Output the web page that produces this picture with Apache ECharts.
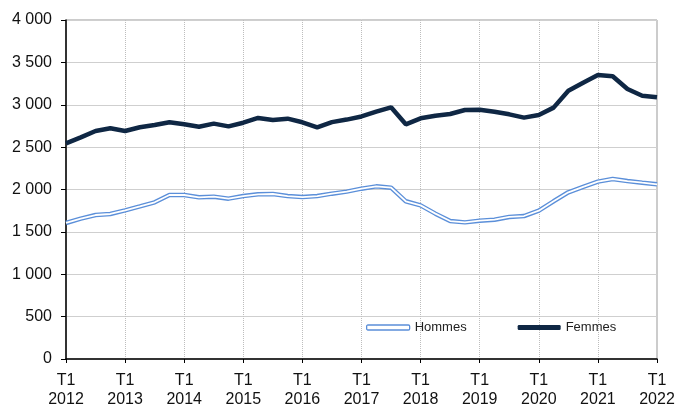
<!DOCTYPE html>
<html lang="fr">
<head>
    <meta charset="UTF-8">
    <title>Hommes / Femmes</title>
    <script src="https://cdn.jsdelivr.net/npm/echarts@6/dist/echarts.min.js"></script>
    <style>
        html, body { margin: 0; padding: 0; background: #fff; }
        #chart { width: 676px; height: 407px; }
    </style>
</head>
<body>
    <div id="chart"></div>
    <script>
        // trimestres T1 2012 -> T1 2022
        var quarters = [
            "T1 2012", "T2 2012", "T3 2012", "T4 2012",
            "T1 2013", "T2 2013", "T3 2013", "T4 2013",
            "T1 2014", "T2 2014", "T3 2014", "T4 2014",
            "T1 2015", "T2 2015", "T3 2015", "T4 2015",
            "T1 2016", "T2 2016", "T3 2016", "T4 2016",
            "T1 2017", "T2 2017", "T3 2017", "T4 2017",
            "T1 2018", "T2 2018", "T3 2018", "T4 2018",
            "T1 2019", "T2 2019", "T3 2019", "T4 2019",
            "T1 2020", "T2 2020", "T3 2020", "T4 2020",
            "T1 2021", "T2 2021", "T3 2021", "T4 2021",
            "T1 2022"
        ];

        var hommes = [
            1605, 1656, 1699, 1711, 1754, 1801, 1849, 1935,
            1935, 1908, 1915, 1892, 1923, 1943, 1947, 1923,
            1911, 1923, 1951, 1975, 2010, 2037, 2022, 1861,
            1813, 1715, 1628, 1612, 1632, 1644, 1676, 1687,
            1750, 1861, 1967, 2030, 2093, 2124, 2100, 2080,
            2061
        ];

        var femmes = [
            2545, 2615, 2690, 2722, 2690, 2734, 2761, 2793,
            2769, 2741, 2777, 2745, 2788, 2844, 2820, 2836,
            2793, 2734, 2795, 2825, 2862, 2918, 2970, 2769,
            2840, 2871, 2891, 2938, 2942, 2918, 2887, 2848,
            2879, 2966, 3166, 3260, 3351, 3336, 3186, 3107,
            3088
        ];

        var yTicks = [0, 500, 1000, 1500, 2000, 2500, 3000, 3500, 4000];

        var blue = "#5b8fd9";
        var navy = "#0f2744";

        function fmtThousands(v) {
            if (v < 1000) return String(v);
            var rest = String(v % 1000);
            while (rest.length < 3) rest = "0" + rest;
            return Math.floor(v / 1000) + " " + rest;
        }

        function isYearStart(idx) {
            return idx % 4 === 0;
        }

        var myChart = echarts.init(document.getElementById("chart"));

        var option = {
            animation: false,
            grid: {
                left: 66,
                right: 19,
                top: 20,
                bottom: 48,
                outerBoundsMode: "none",
                show: true,
                borderColor: "#999",
                borderWidth: 1
            },
            legend: {
                left: 361,
                top: 316,
                itemGap: 51,
                itemWidth: 43,
                itemHeight: 5,
                textStyle: {
                    fontFamily: "Liberation Sans, Arial, sans-serif",
                    fontSize: 13,
                    color: "#222"
                },
                data: [
                    {
                        name: "Hommes",
                        icon: "roundRect",
                        itemStyle: { color: "#fff", borderColor: blue, borderWidth: 1.3 }
                    },
                    {
                        name: "Femmes",
                        icon: "roundRect",
                        itemStyle: { color: navy, borderWidth: 0 }
                    }
                ]
            },
            xAxis: {
                type: "category",
                boundaryGap: false,
                data: quarters,
                axisLine: { lineStyle: { color: "#000", width: 1.5 } },
                axisTick: {
                    show: true,
                    length: 4,
                    interval: function (idx) { return isYearStart(idx); },
                    lineStyle: { color: "#000" }
                },
                axisLabel: {
                    interval: function (idx) { return isYearStart(idx); },
                    formatter: function (v) { return v.replace(" ", "\n"); },
                    fontFamily: "Liberation Sans, Arial, sans-serif",
                    fontSize: 16,
                    lineHeight: 19,
                    margin: 12,
                    color: "#111"
                },
                splitLine: {
                    show: true,
                    interval: function (idx) { return isYearStart(idx) && idx > 0 && idx < quarters.length - 1; },
                    lineStyle: { color: "#bdbdbd", type: "dotted", width: 1 }
                }
            },
            yAxis: {
                type: "value",
                min: yTicks[0],
                max: yTicks[yTicks.length - 1],
                interval: 500,
                axisLine: { show: true, lineStyle: { color: "#000", width: 1.5 } },
                axisTick: { show: true, length: 5, lineStyle: { color: "#000" } },
                axisLabel: {
                    formatter: fmtThousands,
                    fontFamily: "Liberation Sans, Arial, sans-serif",
                    fontSize: 16,
                    margin: 14,
                    color: "#111"
                },
                splitLine: { lineStyle: { color: "#cfcfcf", width: 1 } }
            },
            series: [
                {
                    name: "Hommes",
                    type: "line",
                    data: hommes,
                    symbol: "none",
                    lineStyle: { color: blue, width: 4.5 },
                    itemStyle: { color: blue },
                    z: 2
                },
                {
                    name: "Hommes_inner",
                    type: "line",
                    data: hommes,
                    symbol: "none",
                    silent: true,
                    lineStyle: { color: "#fff", width: 1.8 },
                    itemStyle: { color: "#fff" },
                    z: 3
                },
                {
                    name: "Femmes",
                    type: "line",
                    data: femmes,
                    symbol: "none",
                    lineStyle: { color: navy, width: 4.5 },
                    itemStyle: { color: navy },
                    z: 4
                }
            ]
        };

        myChart.setOption(option);
    </script>
</body>
</html>
